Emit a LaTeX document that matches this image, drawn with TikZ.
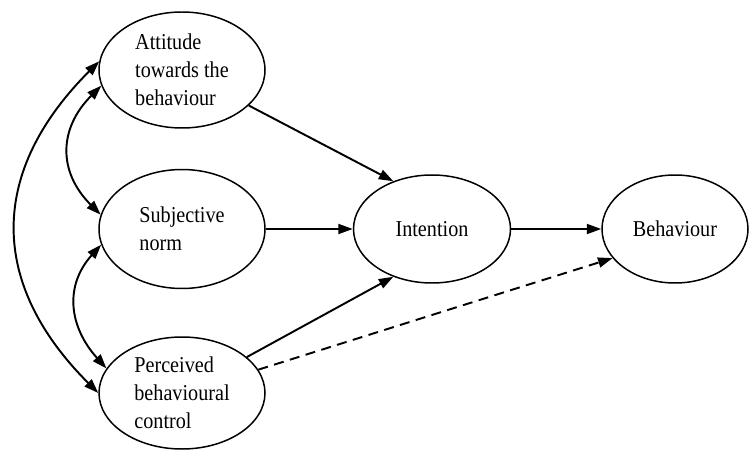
\documentclass[tikz,border=0pt]{standalone}
\usepackage{fontspec}
\setmainfont[FakeStretch=0.89]{Liberation Serif}
\usetikzlibrary{positioning, arrows.meta, shapes.geometric}
\tikzstyle{arrow} = [line width=1.1pt,-{Triangle[length=2.9mm,width=2mm]}]

\begin{document}
\begin{tikzpicture}
                    \tikzstyle{every node}=[font=\fontsize{12.9}{15.9}\selectfont] \tikzstyle{construct} =
                    [ellipse, draw=black, line width=0.85pt, inner sep=0pt, align=left] \tikzstyle{edge} =
                    [{Triangle[length=2.9mm,width=2mm]}-{Triangle[length=2.9mm,width=2mm]}, line width=1.1pt]

                    \useasboundingbox (0,0) rectangle (14.98,9);

                    \node[construct, minimum width=3.32cm, minimum height=2.32cm](att) at (3.64,7.6) {Attitude\\towards the\\behaviour};
                    \node[construct, minimum width=3.32cm, minimum height=2.38cm](subj) at (3.64,4.42) {Subjective\\norm};
                    \node[construct, minimum width=3.32cm, minimum height=2.24cm](pbc) at (3.64,1.14) {Perceived\\behavioural\\control};
                    \node[construct, minimum width=3.14cm, minimum height=2.16cm](int) at (8.64,4.42) {Intention};
                    \node[construct, minimum width=2.92cm, minimum height=2.16cm](beh) at (13.5,4.42) {Behaviour};

                    \draw[arrow] (att.-28) -- (int.129);
                    \draw[arrow] (subj) -- (int);
                    \draw[arrow] (pbc.29) -- (int.231);
                    \draw[arrow] (int) -- (beh);
                    \draw[arrow, dash pattern=on 2mm off 1.3mm] (pbc.17) -- (beh.205);

                    % correlations
                    \draw[edge] (att.191) to[out=225, in=135, looseness=1.2] (subj.170);
                    \draw[edge] (subj.191) to[out=228, in=132, looseness=1.15] (pbc.162);
                    \draw[edge] (att.174) to[out=225, in=135, looseness=1.2] (pbc.180);
            \end{tikzpicture}
\end{document}
